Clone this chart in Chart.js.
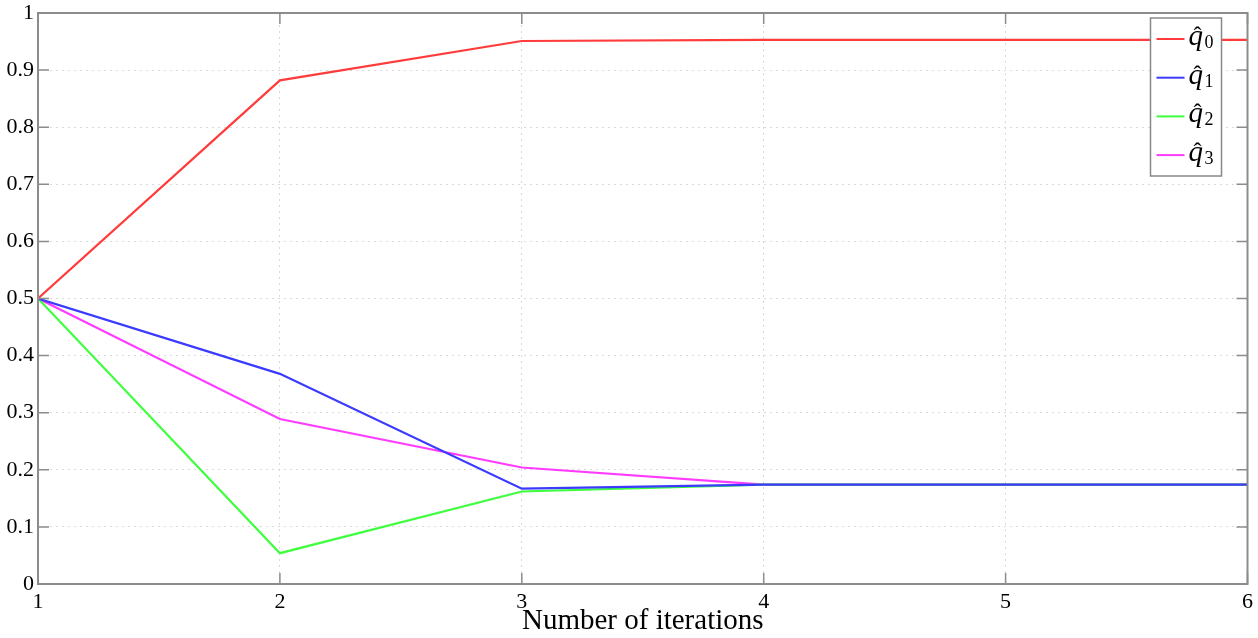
<!DOCTYPE html>
<html>
<head>
<meta charset="utf-8">
<script src="https://cdn.jsdelivr.net/npm/chart.js@4/dist/chart.umd.min.js"></script>
<style>
  html, body { margin: 0; padding: 0; background: #fff; }
  #wrap { width: 1258px; height: 638px; position: relative; }
</style>
</head>
<body>
<div id="wrap"><canvas id="chart" width="1258" height="638"></canvas></div>
<script>
// iterations on the x axis
const iterations = [1, 2, 3, 4, 5, 6];

// estimated values for each q-hat series
const q0 = [0.5, 0.882, 0.951, 0.953, 0.953, 0.953];
const q1 = [0.5, 0.368, 0.167, 0.174, 0.174, 0.174];
const q2 = [0.5, 0.054, 0.162, 0.174, 0.174, 0.174];
const q3 = [0.5, 0.289, 0.204, 0.174, 0.174, 0.174];

const seriesSymbol = "q";
const seriesIndex = ["0", "1", "2", "3"];
const seriesColors = ["#ff3b3b", "#3b3bff", "#3dff3d", "#ff3bff"];

const yTicks = [0, 0.1, 0.2, 0.3, 0.4, 0.5, 0.6, 0.7, 0.8, 0.9, 1];
const xTitle = "Number of iterations";

const FONT = "'Liberation Serif', 'Times New Roman', serif";

const toPoints = (vals) => vals.map((v, i) => ({ x: iterations[i], y: v }));

// box around the plot with inward ticks (matlab style)
const boxPlugin = {
  id: "box",
  afterDatasetsDraw(chart) {
    const { ctx, chartArea: a, scales } = chart;
    ctx.save();
    ctx.strokeStyle = "#8c8c8c";
    ctx.lineWidth = 2;
    ctx.strokeRect(a.left, a.top, a.right - a.left, a.bottom - a.top);
    ctx.lineWidth = 1.5;
    ctx.beginPath();
    const tl = 11;
    yTicks.forEach((t) => {
      const y = scales.y.getPixelForValue(t);
      ctx.moveTo(a.left, y); ctx.lineTo(a.left + tl, y);
      ctx.moveTo(a.right, y); ctx.lineTo(a.right - tl, y);
    });
    iterations.forEach((t) => {
      const x = scales.x.getPixelForValue(t);
      ctx.moveTo(x, a.bottom); ctx.lineTo(x, a.bottom - tl);
      ctx.moveTo(x, a.top); ctx.lineTo(x, a.top + tl);
    });
    ctx.stroke();
    ctx.restore();
  },
};

// legend drawn by hand so q gets a hat and a subscript
const legendPlugin = {
  id: "qLegend",
  afterDraw(chart) {
    const { ctx, chartArea: a } = chart;
    const x0 = a.right - 97, y0 = a.top + 5, w = 71, h = 158;
    ctx.save();
    ctx.fillStyle = "#fff";
    ctx.fillRect(x0, y0, w, h);
    ctx.strokeStyle = "#888";
    ctx.lineWidth = 1.5;
    ctx.strokeRect(x0, y0, w, h);
    chart.data.datasets.forEach((ds, i) => {
      const y = y0 + 21 + i * 38.7;
      ctx.strokeStyle = ds.borderColor;
      ctx.lineWidth = 2;
      ctx.beginPath();
      ctx.moveTo(x0 + 6, y);
      ctx.lineTo(x0 + 34, y);
      ctx.stroke();
      ctx.fillStyle = "#000";
      ctx.textBaseline = "alphabetic";
      ctx.font = "italic 29px " + FONT;
      ctx.fillText(seriesSymbol, x0 + 38, y + 6);
      ctx.font = "24px " + FONT;
      ctx.fillText("\u02C6", x0 + 43, y + 4);
      ctx.font = "18px " + FONT;
      ctx.fillText(seriesIndex[i], x0 + 54, y + 9);
    });
    ctx.restore();
  },
};

new Chart(document.getElementById("chart"), {
  type: "line",
  data: {
    datasets: [q0, q1, q2, q3].map((vals, i) => ({
      label: seriesSymbol + seriesIndex[i],
      data: toPoints(vals),
      borderColor: seriesColors[i],
      backgroundColor: seriesColors[i],
      borderWidth: 2.2,
      pointRadius: 0,
      tension: 0,
      fill: false,
    })),
  },
  options: {
    responsive: false,
    animation: false,
    layout: { padding: { top: 13, right: 10, left: 0, bottom: 0 } },
    plugins: {
      legend: { display: false },
      tooltip: { enabled: false },
    },
    scales: {
      x: {
        type: "linear",
        min: 1,
        max: 6,
        afterBuildTicks: (s) => { s.ticks = iterations.map((v) => ({ value: v })); },
        afterFit: (s) => { s.height = 54; },
        ticks: {
          font: { family: FONT, size: 22 },
          color: "#000",
          padding: 5,
          maxRotation: 0,
        },
        grid: { color: "#d9d9d9", lineWidth: 1, drawTicks: false },
        border: { display: false, dash: [2, 4] },
        title: {
          display: true,
          text: xTitle,
          font: { family: FONT, size: 29 },
          color: "#000",
          padding: { top: -9, bottom: -1 },
        },
      },
      y: {
        min: 0,
        max: 1,
        afterBuildTicks: (s) => { s.ticks = yTicks.map((v) => ({ value: v })); },
        afterFit: (s) => {
          s.width = 38;
          s.paddingTop = 0;
          s.paddingBottom = 0;
        },
        ticks: {
          font: { family: FONT, size: 22 },
          color: "#000",
          padding: 4,
          callback: (v) => String(Math.round(v * 10) / 10),
        },
        grid: { color: "#d9d9d9", lineWidth: 1, drawTicks: false },
        border: { display: false, dash: [2, 4] },
      },
    },
  },
  plugins: [boxPlugin, legendPlugin],
});
</script>
</body>
</html>
